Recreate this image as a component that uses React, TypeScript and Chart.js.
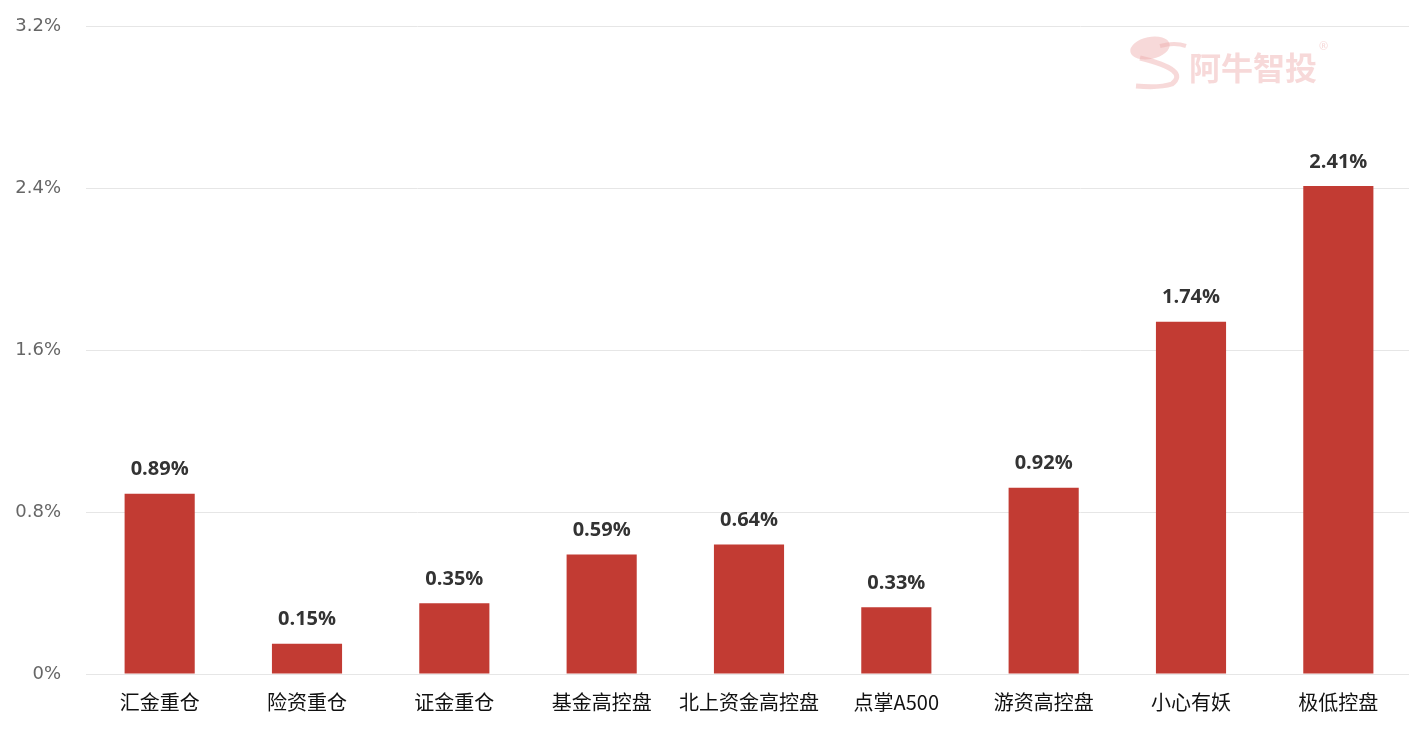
import React, { useEffect, useRef } from "react";
import { Chart, registerables } from "chart.js";

Chart.register(...registerables);

const categories = ["汇金重仓", "险资重仓", "证金重仓", "基金高控盘", "北上资金高控盘", "点掌A500", "游资高控盘", "小心有妖", "极低控盘"];
const values = [0.89, 0.15, 0.35, 0.59, 0.64, 0.33, 0.92, 1.74, 2.41];
const yTicks = [0, 0.8, 1.6, 2.4, 3.2];

const labelPlugin = {
  id: "barLabels",
  afterDatasetsDraw(chart: any) {
    const ctx = chart.ctx;
    const meta = chart.getDatasetMeta(0);
    ctx.save();
    ctx.font = "bold 20px 'Open Sans', 'Noto Sans', sans-serif";
    ctx.fillStyle = "#333333";
    ctx.textAlign = "center";
    ctx.textBaseline = "bottom";
    meta.data.forEach((el: any, i: number) => {
      ctx.fillText(values[i].toFixed(2) + "%", el.x, el.y - 14);
    });
    ctx.restore();
  },
};

const watermarkPlugin = {
  id: "watermark",
  beforeDatasetsDraw(chart: any) {
    const ctx = chart.ctx;
    ctx.save();
    ctx.fillStyle = "rgba(238,170,170,0.45)";
    ctx.strokeStyle = "rgba(238,170,170,0.45)";
    ctx.beginPath();
    ctx.ellipse(1150, 48, 20, 11, -0.2, 0, Math.PI * 2);
    ctx.fill();
    ctx.beginPath();
    ctx.moveTo(1160, 46);
    ctx.quadraticCurveTo(1175, 42, 1186, 46);
    ctx.lineWidth = 4;
    ctx.stroke();
    ctx.lineWidth = 5;
    ctx.beginPath();
    ctx.moveTo(1140, 58);
    ctx.quadraticCurveTo(1190, 70, 1172, 84);
    ctx.quadraticCurveTo(1160, 88, 1136, 86);
    ctx.stroke();
    ctx.font = "bold 32px 'Noto Sans CJK SC', sans-serif";
    ctx.textAlign = "left";
    ctx.textBaseline = "middle";
    ctx.fillText("阿牛智投", 1189, 68);
    ctx.font = "11px 'Noto Sans', sans-serif";
    ctx.fillText("®", 1319, 47);
    ctx.restore();
  },
};

export default function App() {
  const ref = useRef<HTMLCanvasElement | null>(null);
  useEffect(() => {
    document.body.style.margin = "0";
    const c = ref.current!;
    const chart = new Chart(c, {
      type: "bar",
      data: {
        labels: categories,
        datasets: [
          {
            data: values,
            backgroundColor: "#c23b33",
            categoryPercentage: 1,
            barPercentage: 0.476,
          },
        ],
      },
      options: {
        animation: false,
        responsive: false,
        maintainAspectRatio: false,
        layout: { padding: { top: 26, right: 0, bottom: 0, left: 0 } },
        plugins: { legend: { display: false }, tooltip: { enabled: false } },
        scales: {
          x: {
            grid: { display: false, drawTicks: false },
            border: { color: "#e6e6e6", width: 1 },
            ticks: {
              color: "#111111",
              font: { size: 20, family: "'Noto Sans CJK SC', sans-serif" },
              padding: 16,
              maxRotation: 0,
              autoSkip: false,
            },
            afterFit(scale: any) {
              scale.height = 56;
              scale.paddingLeft = 0;
              scale.paddingRight = 0;
            },
          },
          y: {
            min: 0,
            max: 3.2,
            afterBuildTicks(scale: any) {
              scale.ticks = yTicks.map((v) => ({ value: v }));
            },
            grid: { color: "#e6e6e6", drawTicks: false },
            border: { display: false },
            ticks: {
              color: "#666666",
              font: { size: 18, family: "'DejaVu Sans', sans-serif" },
              padding: 25,
              callback: (v: any) => (Number(v) === 0 ? "0%" : Number(v).toFixed(1) + "%"),
            },
            afterFit(scale: any) {
              scale.width = 86;
              scale.paddingTop = 0;
              scale.paddingBottom = 0;
            },
          },
        },
      },
      plugins: [watermarkPlugin, labelPlugin],
    });
    return () => chart.destroy();
  }, []);
  return (
    <div style={{ width: 1409, height: 730, overflow: "hidden" }}>
      <canvas ref={ref} width={1412} height={730} style={{ display: "block" }} />
    </div>
  );
}
